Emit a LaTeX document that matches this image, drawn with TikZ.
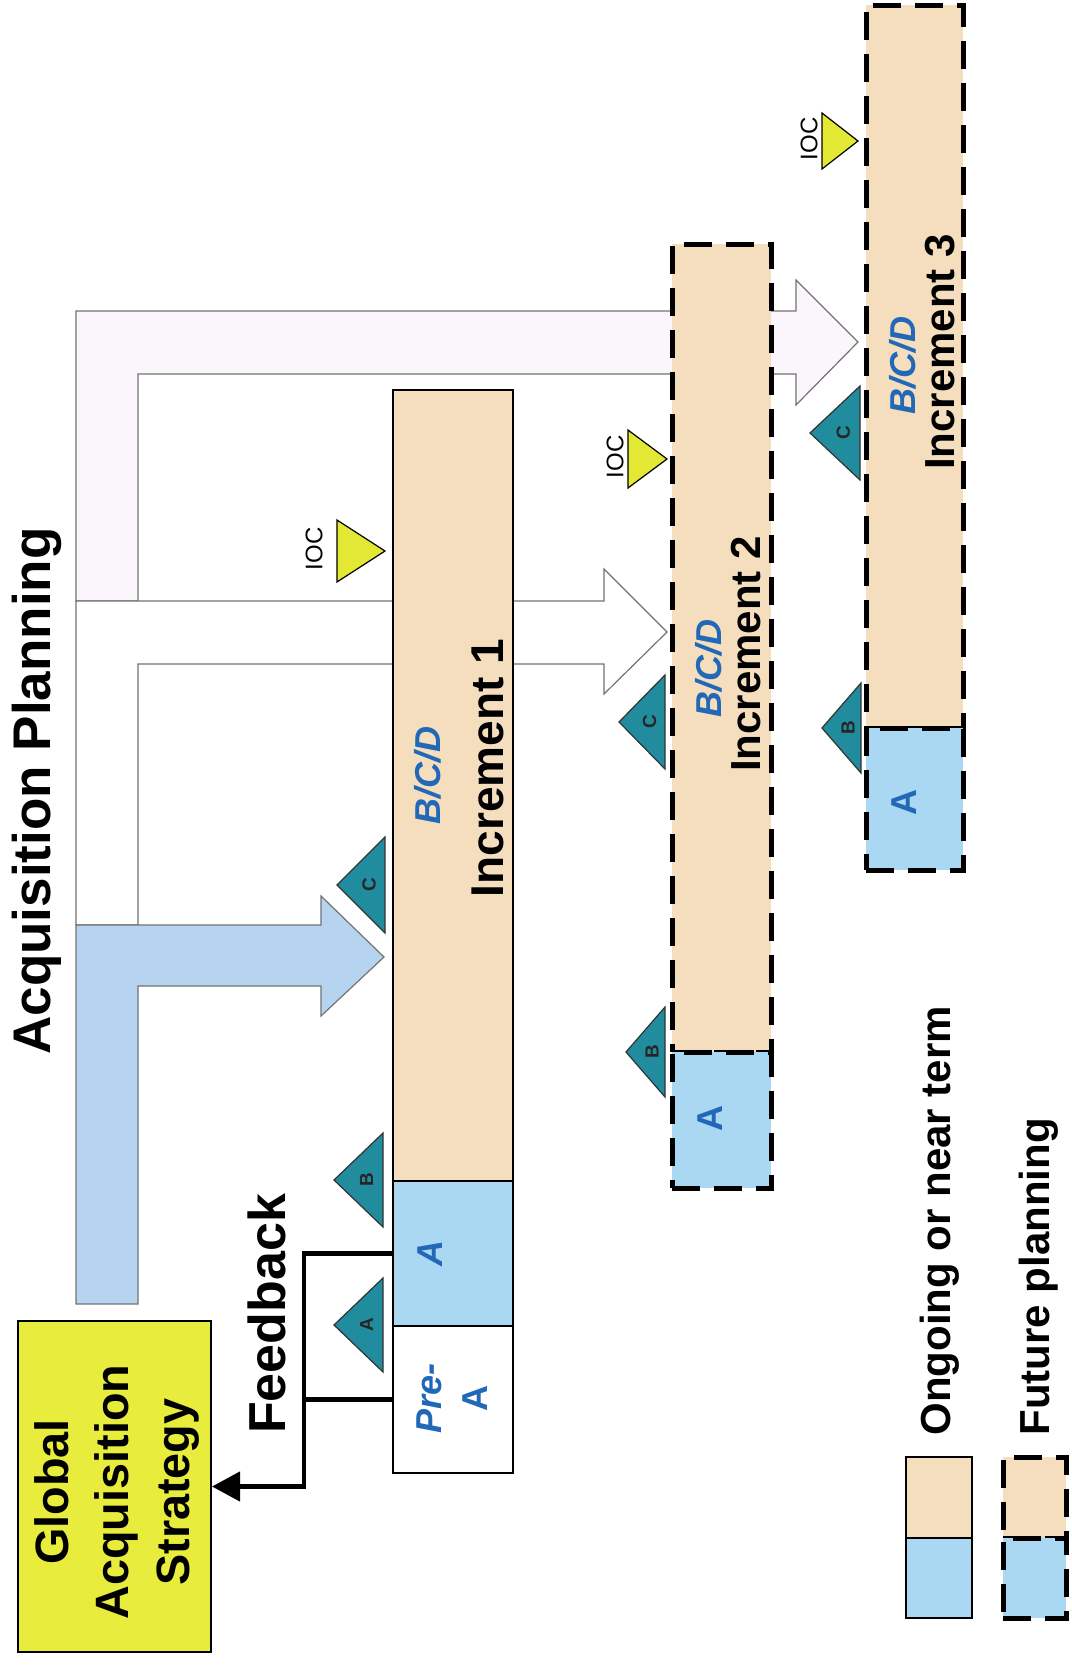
\documentclass[tikz,border=0pt]{standalone}
\usepackage{fontspec}
\setmainfont{Liberation Sans}
\usetikzlibrary{arrows.meta,fit}
\definecolor{bartan}{RGB}{245,222,190}
\definecolor{phaseA}{RGB}{170,215,242}
\definecolor{planblue}{RGB}{182,212,240}
\definecolor{gasyellow}{RGB}{232,236,60}
\definecolor{iocyellow}{RGB}{226,232,52}
\definecolor{msteal}{RGB}{32,140,158}
\definecolor{txtblue}{RGB}{34,104,184}
\definecolor{pinkband}{RGB}{251,246,251}
\newcommand\milestone[6]{%
  \filldraw[msshape] (#2,#3) -- (#4,#3-#5) -- (#4,#3+#5) -- cycle;
  \node[mslabel] (#1) at ({(#2+2*#4)/3},#3) {#6};}
\newcommand\iocmark[6]{%
  \filldraw[iocshape] (#2,#4-#5) -- (#3,#4) -- (#2,#4+#5) -- cycle;
  \node[ioctxt] (#1) at (#6,#4-2) {IOC};}
\begin{document}
\begin{tikzpicture}[x=0.5pt,y=-0.5pt,
  bandline/.style={draw=black!55, line width=0.6pt},
  solidbar/.style={draw=black, line width=1.2pt, inner sep=0pt},
  dashbar/.style={draw=black, line width=2.5pt, dash pattern=on 14pt off 7pt, inner sep=0pt},
  phasetxt/.style={rotate=90, inner sep=0pt, text=txtblue, font=\fontsize{18}{23}\selectfont\bfseries},
  inctxt/.style={rotate=90, inner sep=0pt, font=\fontsize{23}{28}\selectfont\bfseries},
  inctxtsmall/.style={rotate=90, inner sep=0pt, font=\fontsize{21}{26}\selectfont\bfseries},
  msshape/.style={fill=msteal, draw=black!80, line width=0.6pt},
  mslabel/.style={rotate=90, inner sep=0pt, font=\fontsize{9.5}{11}\selectfont\bfseries, text=black!85},
  iocshape/.style={fill=iocyellow, draw=black, line width=0.6pt},
  ioctxt/.style={rotate=90, inner sep=0pt, font=\fontsize{12}{14}\selectfont},
  fb/.style={draw=black, line width=2.2pt},
  legtxt/.style={rotate=90, anchor=west, inner sep=0pt, font=\fontsize{21}{25}\selectfont\bfseries},
  bigtxt/.style={rotate=90, inner sep=0pt, font=\fontsize{26.5}{30}\selectfont\bfseries}
]
\useasboundingbox (0,0) rectangle (1071,1665);
\fill[white] (0,0) rectangle (1071,1665);

% planning bands
\filldraw[fill=pinkband, bandline] (76,601) -- (76,311) -- (796,311) -- (796,280) -- (858,342) -- (796,405) -- (796,374) -- (138,374) -- (138,601) -- cycle;
\filldraw[fill=white, bandline] (76,925) -- (76,601) -- (604,601) -- (604,569) -- (667,632) -- (604,694) -- (604,664) -- (138,664) -- (138,925) -- cycle;
\filldraw[fill=planblue, bandline] (76,1304) -- (76,925) -- (321,925) -- (321,896) -- (384,957) -- (321,1016) -- (321,986) -- (138,986) -- (138,1304) -- cycle;

% Increment 1
\node[solidbar, fill=bartan, fit={(393,390) (513,1181)}] (inc1tan) {};
\node[solidbar, fill=phaseA, fit={(393,1181) (513,1326)}] (inc1A) {};
\node[solidbar, fill=white, fit={(393,1326) (513,1473)}] (preA) {};
% Increment 2
\node[dashbar, fill=bartan, fit={(672,244) (771,1052)}] (inc2tan) {};
\node[dashbar, fill=phaseA, fit={(672,1052) (771,1188)}] (inc2A) {};
% Increment 3
\node[dashbar, fill=bartan, fit={(866,5) (963,728)}] (inc3tan) {};
\node[dashbar, fill=phaseA, fit={(866,728) (963,870)}] (inc3A) {};

% texts in bars
\node[phasetxt] (bcd1) at (428,775) {\itshape B/C/D};
\node[inctxt] (inc1txt) at (488,768) {Increment 1};
\node[phasetxt] (a1txt) at (430,1253) {\itshape A};
\node[phasetxt, align=center] (preAtxt) at (452,1398) {\textit{Pre-}\\A};
\node[phasetxt] (bcd2) at (709,668) {\itshape B/C/D};
\node[inctxtsmall] (inc2txt) at (746,654) {Increment 2};
\node[phasetxt] (a2txt) at (710,1118) {A};
\node[phasetxt] (bcd3) at (903,365) {\itshape B/C/D};
\node[inctxtsmall] (inc3txt) at (940,352) {Increment 3};
\node[phasetxt] (a3txt) at (904,802) {A};

% milestones
\milestone{msA1}{334}{1325}{383}{47}{A}
\milestone{msB1}{334}{1180}{383}{47}{B}
\milestone{msC1}{337}{885}{385}{48}{C}
\milestone{msC2}{619}{722}{665}{47}{C}
\milestone{msB2}{626}{1052}{665}{45}{B}
\milestone{msC3}{810}{433}{860}{47}{C}
\milestone{msB3}{822}{728}{861}{45}{B}

% IOC
\iocmark{ioc1}{337}{385}{551}{31}{314}
\iocmark{ioc2}{628}{667}{459}{29}{615}
\iocmark{ioc3}{822}{858}{141}{28}{809}

% Global Acquisition Strategy
\node[draw=black, line width=1pt, fill=gasyellow, inner sep=0pt, fit={(18,1321) (211,1652)}] (gas) {};
\node[rotate=90, inner sep=0pt, align=center, font=\fontsize{23.4}{30}\selectfont\bfseries] (gastxt) at (117,1492) {Global\\Acquisition\\Strategy};

% titles
\node[bigtxt] (acqplan) at (37,791) {Acquisition Planning};
\node[bigtxt, font=\fontsize{26}{30}\selectfont\bfseries] (feedback) at (267,1314) {Feedback};

% feedback connectors
\coordinate (fbx) at (304,1253);
\draw[fb] (preA.west) -- (preA.west -| fbx);
\draw[fb, -{Triangle[length=14pt,width=14.5pt]}] (inc1A.west) -- (inc1A.west -| fbx) |- (gas.east);

% legend
\node[solidbar, fill=bartan, fit={(906,1457) (972,1538)}] (legtan1) {};
\node[solidbar, fill=phaseA, fit={(906,1538) (972,1618)}] (legA1) {};
\node[dashbar, fill=bartan, fit={(1003,1457) (1066,1538)}] (legtan2) {};
\node[dashbar, fill=phaseA, fit={(1003,1538) (1066,1618)}] (legA2) {};
\node[legtxt] (legongoing) at (940,1436) {Ongoing or near term};
\node[legtxt] (legfuture) at (1039,1436) {Future planning};
\end{tikzpicture}
\end{document}
